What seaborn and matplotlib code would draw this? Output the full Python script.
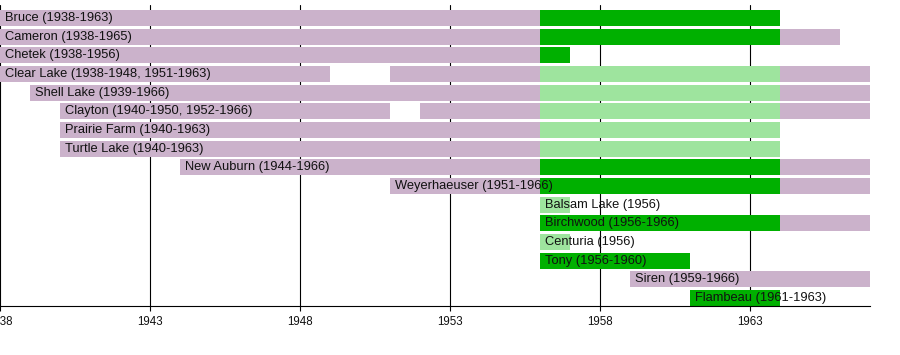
import matplotlib
matplotlib.use("Agg")
import matplotlib.pyplot as plt
import numpy as np
import pandas as pd
import seaborn as sns

# Rows, top to bottom
towns = [
    "Bruce (1938-1963)", "Cameron (1938-1965)", "Chetek (1938-1956)",
    "Clear Lake (1938-1948, 1951-1963)", "Shell Lake (1939-1966)",
    "Clayton (1940-1950, 1952-1966)", "Prairie Farm (1940-1963)",
    "Turtle Lake (1940-1963)", "New Auburn (1944-1966)",
    "Weyerhaeuser (1951-1966)", "Balsam Lake (1956)", "Birchwood (1956-1966)",
    "Centuria (1956)", "Tony (1956-1960)", "Siren (1959-1966)",
    "Flambeau (1961-1963)",
]

# one entry per drawn segment
seg_row = [0, 0,
           1, 1, 1,
           2, 2,
           3, 3, 3, 3,
           4, 4, 4,
           5, 5, 5, 5,
           6, 6,
           7, 7,
           8, 8, 8,
           9, 9, 9,
           10,
           11, 11,
           12,
           13,
           14,
           15]
seg_start = [1938, 1956,
             1938, 1956, 1964,
             1938, 1956,
             1938, 1951, 1956, 1964,
             1939, 1956, 1964,
             1940, 1952, 1956, 1964,
             1940, 1956,
             1940, 1956,
             1944, 1956, 1964,
             1951, 1956, 1964,
             1956,
             1956, 1964,
             1956,
             1956,
             1959,
             1961]
seg_end = [1956, 1964,
           1956, 1964, 1966,
           1956, 1957,
           1949, 1956, 1964, 1967,
           1956, 1964, 1967,
           1951, 1956, 1964, 1967,
           1956, 1964,
           1956, 1964,
           1956, 1964, 1967,
           1956, 1964, 1967,
           1957,
           1964, 1967,
           1957,
           1961,
           1967,
           1964]
seg_kind = ["p", "g",
            "p", "g", "p",
            "p", "g",
            "p", "p", "l", "p",
            "p", "l", "p",
            "p", "p", "l", "p",
            "p", "l",
            "p", "l",
            "p", "g", "p",
            "p", "g", "p",
            "l",
            "g", "p",
            "l",
            "g",
            "p",
            "g"]

year_ticks = [1938, 1943, 1948, 1953, 1958, 1963]

KIND_COLORS = {"p": "#cbb2cb", "g": "#00b000", "l": "#9ee49e"}

df = pd.DataFrame({"row": seg_row, "start": seg_start, "end": seg_end, "kind": seg_kind})

sns.set_theme(style="white")
plt.rcParams["font.family"] = ["Liberation Sans", "DejaVu Sans"]

fig = plt.figure(figsize=(9, 3.55), dpi=100)
ax = fig.add_axes([0.0, 49 / 355, 870 / 900, 301 / 355])

ax.barh(df["row"], df["end"] - df["start"], left=df["start"], height=0.86,
        color=[KIND_COLORS[k] for k in df["kind"]], linewidth=0, zorder=2)

# label at start of each row's first segment
first = df.groupby("row")["start"].min()
for r, name in enumerate(towns):
    ax.annotate(name, (first[r], r), xytext=(3.8, 0), textcoords="offset points",
                ha="left", va="center", fontsize=9.3, color="#111111", zorder=3)

ax.set_xlim(1938, 1967)
ax.set_ylim(15.43, -0.70)
ax.set_yticks([])
ax.set_xticks(year_ticks)
ax.set_xticklabels([str(y) for y in year_ticks])
ax.tick_params(axis="x", bottom=True, length=3.5, width=0.8, color="black",
               labelsize=8.3, pad=3.5, labelcolor="#111111")
ax.grid(axis="x", color="black", linewidth=0.8)
ax.grid(axis="y", visible=False)
ax.set_axisbelow(True)
for s in ["top", "right", "left"]:
    ax.spines[s].set_visible(False)
ax.spines["bottom"].set_color("black")
ax.spines["bottom"].set_linewidth(0.8)

fig.savefig("out.png", dpi=100)
